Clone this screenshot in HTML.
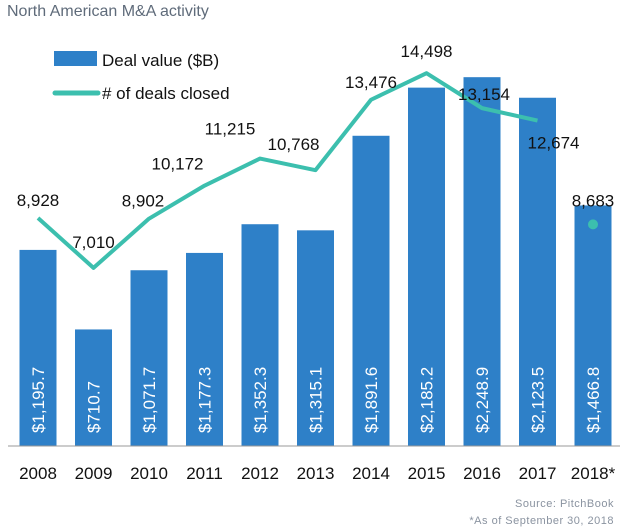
<!DOCTYPE html>
<html><head><meta charset="utf-8"><style>
body{margin:0;background:#fff;width:620px;height:531px;overflow:hidden}
svg{display:block;font-family:"Liberation Sans",sans-serif}
</style></head><body>
<svg id="c" width="620" height="531">
<text x="7" y="16" font-size="16" fill="#5f6b7a">North American M&amp;A activity</text>
<rect x="54" y="51" width="43" height="15" fill="#2e80c8"/>
<text x="102" y="66" font-size="17" fill="#111">Deal value ($B)</text>
<line x1="55" y1="93" x2="98" y2="93" stroke="#3cbfae" stroke-width="5" stroke-linecap="round"/>
<text x="102" y="99" font-size="17" fill="#111"># of deals closed</text>
<g id="bars"></g><g id="line"></g>
<line x1="8" y1="446" x2="620" y2="446" stroke="#999" stroke-width="1"/>
<text x="614" y="507" font-size="11" fill="#8a93a0" text-anchor="end" letter-spacing="0.5">Source: PitchBook</text>
<text x="614" y="524" font-size="11" fill="#8a93a0" text-anchor="end" letter-spacing="0.5">*As of September 30, 2018</text>
</svg>
<script>
const years=["2008","2009","2010","2011","2012","2013","2014","2015","2016","2017","2018*"];
const dealValues=[1195.7,710.7,1071.7,1177.3,1352.3,1315.1,1891.6,2185.2,2248.9,2123.5,1466.8];
const dealCounts=[8928,7010,8902,10172,11215,10768,13476,14498,13154,12674,8683];
const labelDx=[0,0,-6,-27,-30,-22,0,0,2,16,0];
const labelDy=[-12,-20,-12,-16,-24,-20,-12,-16,-8,28,-18];
const ns="http://www.w3.org/2000/svg";
const xc=i=>38+i*55.5;
const yb=v=>446-v*0.164;
const yl=v=>218-(v-8928)*0.026;
const fmtC=v=>v.toLocaleString('en-US');
const fmtD=v=>'$'+v.toLocaleString('en-US',{minimumFractionDigits:1,maximumFractionDigits:1});
const bars=document.getElementById('bars'),line=document.getElementById('line');
function mk(t,a,p){const e=document.createElementNS(ns,t);for(const k in a)e.setAttribute(k,a[k]);p.appendChild(e);return e;}
years.forEach((y,i)=>{
 const r=mk('rect',{x:xc(i)-18.5,y:yb(dealValues[i]),width:37,height:446-yb(dealValues[i]),fill:'#2e80c8'},bars);
 
 
 const t=mk('text',{x:0,y:0,'font-size':17,fill:'#fff',transform:`translate(${xc(i)+6},433) rotate(-90)`},bars);
 t.textContent=fmtD(dealValues[i]);
 
 
 const yt=mk('text',{x:xc(i),y:479,'font-size':17,fill:'#111','text-anchor':'middle'},bars);
 yt.textContent=y;
 
 
});
const n=dealCounts.length-1;
const pts=dealCounts.slice(0,n).map((v,i)=>xc(i)+','+yl(v)).join(' ');
const pl=mk('polyline',{points:pts,fill:'none',stroke:'#3cbfae','stroke-width':4,'stroke-linejoin':'round'},line);


const dot=mk('circle',{cx:xc(n),cy:yl(dealCounts[n]),r:5,fill:'#3cbfae'},line);


dealCounts.forEach((v,i)=>{
 const t=mk('text',{x:xc(i)+labelDx[i],y:yl(v)+labelDy[i],'font-size':17,fill:'#111','text-anchor':'middle'},line);
 t.textContent=fmtC(v);
 
 
});
</script>
</body></html>
